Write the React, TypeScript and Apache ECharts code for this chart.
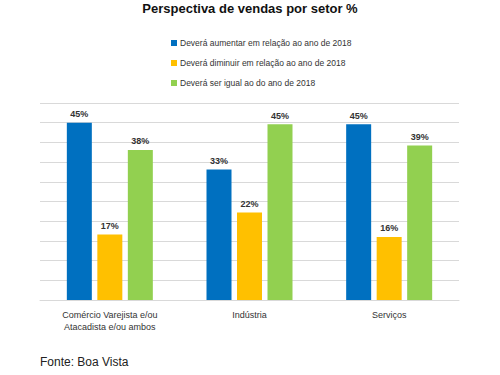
import React, { useEffect, useRef } from "react";
import * as echarts from "echarts";

const categories = ["Comércio Varejista e/ou\nAtacadista e/ou ambos", "Indústria", "Serviços"];
const seriesNames = [
  "Deverá aumentar em relação ao ano de 2018",
  "Deverá diminuir em relação ao ano de 2018",
  "Deverá ser igual ao do ano de 2018",
];
const aumentar = [45.0, 33.1, 44.6];
const diminuir = [16.6, 22.2, 16.0];
const igual = [38.1, 44.6, 39.2];
const colors = ["#0070C0", "#FFC000", "#92D050"];
const titleText = "Perspectiva de vendas por setor %";
const sourceText = "Fonte: Boa Vista";

export default function App() {
  const ref = useRef<HTMLDivElement>(null);
  useEffect(() => {
    if (!ref.current) return;
    const chart = echarts.init(ref.current, undefined, { renderer: "svg" });
    const values = [aumentar, diminuir, igual];
    chart.setOption({
      animation: false,
      backgroundColor: "#ffffff",
      title: {
        text: titleText,
        left: "center",
        top: 2,
        padding: 0,
        textStyle: { fontFamily: "Liberation Sans", fontSize: 13, fontWeight: "bold", color: "#111" },
      },
      legend: {
        orient: "vertical",
        left: 166,
        top: 32,
        itemWidth: 6,
        itemHeight: 6,
        itemGap: 8,
        icon: "rect",
        textStyle: { fontFamily: "Liberation Sans", fontSize: 8.5, color: "#333", lineHeight: 12, padding: [0, 0, 0, -2] },
        data: seriesNames,
      },
      grid: { left: 40, right: 41, top: 103, bottom: 75, containLabel: false },
      xAxis: {
        type: "category",
        data: categories,
        axisTick: { show: false },
        axisLine: { show: true, lineStyle: { color: "#d9d9d9", width: 1 } },
        axisLabel: { fontFamily: "Liberation Sans", fontSize: 9, color: "#333", margin: 9, lineHeight: 12, interval: 0 },
      },
      yAxis: {
        type: "value",
        min: 0,
        max: 50,
        interval: 5,
        axisLabel: { show: false },
        axisLine: { show: false },
        axisTick: { show: false },
        splitLine: { lineStyle: { color: "#d9d9d9", width: 1 } },
      },
      series: seriesNames.map((name, i) => ({
        name,
        type: "bar",
        data: values[i],
        barWidth: 25,
        barGap: "22%",
        itemStyle: { color: colors[i] },
        label: {
          show: true,
          position: "top",
          distance: 4,
          fontFamily: "Liberation Sans",
          fontSize: 9,
          fontWeight: "bold",
          color: "#333",
          formatter: (p: any) => Math.round(p.value) + "%",
        },
      })),
      graphic: [
        {
          type: "text",
          left: 40,
          top: 356,
          style: { text: sourceText, fontFamily: "Liberation Sans", fontSize: 12, fill: "#222" },
        },
      ],
    });
    return () => chart.dispose();
  }, []);
  return <div ref={ref} style={{ width: 500, height: 375, position: "absolute", left: 0, top: 0 }} />;
}
